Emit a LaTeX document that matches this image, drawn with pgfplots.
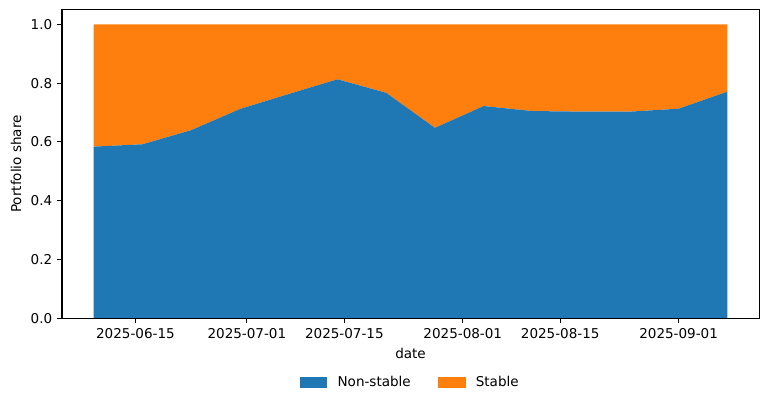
\documentclass[border=0pt]{standalone}
\usepackage{fontspec}
\setmainfont{DejaVu Sans}
\usepackage{pgfplots}
\pgfplotsset{compat=1.18}
\definecolor{mblue}{HTML}{1F77B4}
\definecolor{morange}{HTML}{FF7F0E}
\begin{document}
\begin{tikzpicture}
\useasboundingbox (-45.8pt,-64.8pt) rectangle (521.4pt,235.1pt);
\begin{axis}[
  at={(0pt,0pt)}, anchor=south west,
  scale only axis, width=514.8pt, height=228pt,
  xmin=-4.55, xmax=95.55, ymin=0, ymax=1.05,
  stack plots=y,
  axis on top,
  line width=0.8pt,
  tick align=outside,
  major tick length=3.5pt,
  tick style={black, line width=0.8pt},
  xtick pos=lower, ytick pos=left,
  xtick={6,22,36,53,67,84},
  xticklabels={2025-06-15,2025-07-01,2025-07-15,2025-08-01,2025-08-15,2025-09-01},
  ytick={0,0.2,0.4,0.6,0.8,1},
  yticklabel style={/pgf/number format/fixed,/pgf/number format/fixed zerofill,/pgf/number format/precision=1},
  /pgf/number format/assume math mode=true,
  xlabel={date},
  ylabel={Portfolio share},
  xlabel style={at={(axis description cs:0.5,-0.1123)}, anchor=center},
  ylabel style={at={(axis description cs:-0.066,0.5)}, anchor=center},
  legend columns=2,
  legend cell align=left,
  legend image code/.code={\fill[#1] (0pt,-3.8pt) rectangle (20.5pt,3.8pt); \path (26pt,0pt);},
  legend style={at={(0.5,-0.2075)}, anchor=center, draw=none, fill=none,
    /tikz/every even column/.append style={column sep=18pt}},
]
\addplot[fill=mblue, draw=none] coordinates {
(0,0.584) (7,0.592) (14,0.640) (21,0.712) (28,0.763) (35,0.813) (42,0.767)
(49,0.648) (56,0.722) (63,0.705) (70,0.703) (77,0.703) (84,0.713) (91,0.771)
} \closedcycle;
\addlegendentry{Non-stable}
\addplot[fill=morange, draw=none] coordinates {
(0,0.416) (7,0.408) (14,0.360) (21,0.288) (28,0.237) (35,0.187) (42,0.233)
(49,0.352) (56,0.278) (63,0.295) (70,0.297) (77,0.297) (84,0.287) (91,0.229)
} \closedcycle;
\addlegendentry{Stable}
\end{axis}
\end{tikzpicture}
\end{document}
